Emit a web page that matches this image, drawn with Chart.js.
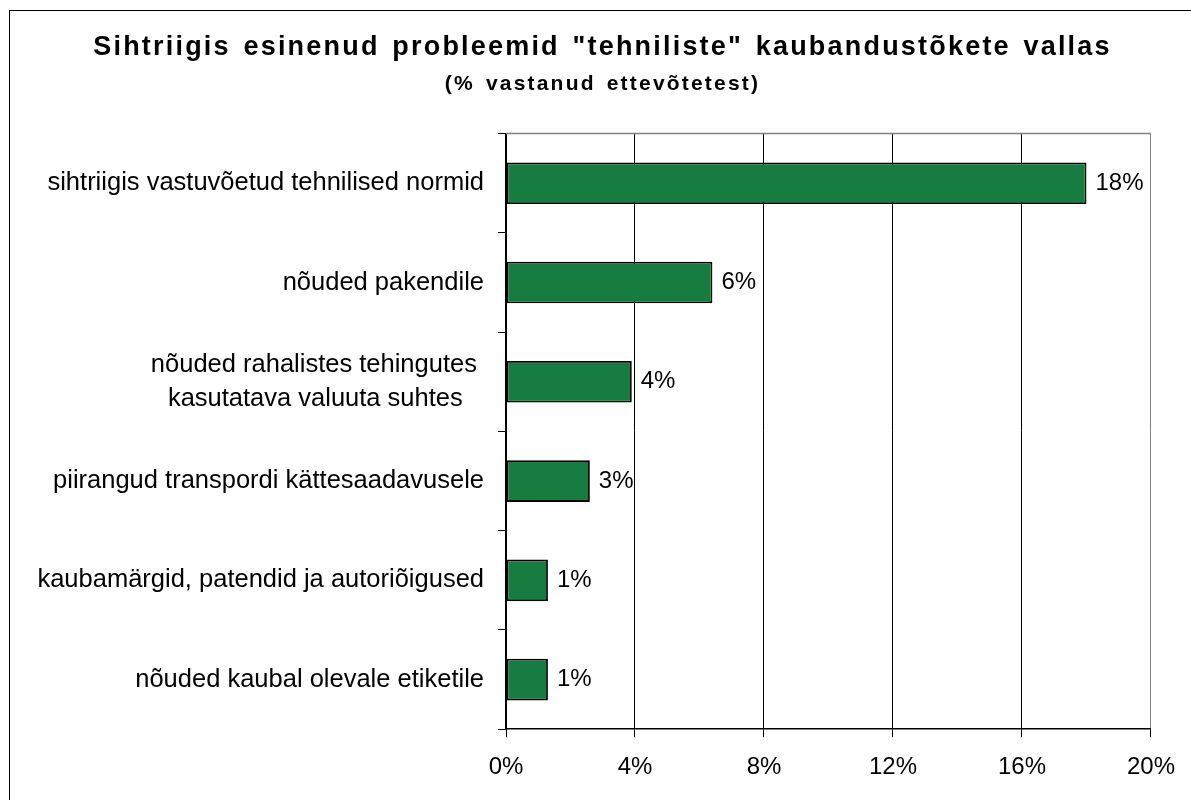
<!DOCTYPE html>
<html lang="et">
<head>
    <meta charset="UTF-8">
    <title>Sihtriigis esinenud probleemid "tehniliste" kaubandustõkete vallas</title>
    <script src="https://cdn.jsdelivr.net/npm/chart.js@4.4.4/dist/chart.umd.min.js"></script>
    <style>
        html, body { margin: 0; padding: 0; background: #fff; overflow: hidden; }
        #wrap { position: relative; width: 1191px; height: 800px; }
        #raam { position: absolute; left: 9px; top: 10px; width: 1300px; height: 900px; border: 1.5px solid #000; }
        canvas { position: absolute; left: 0; top: 0; }
    </style>
</head>
<body>
<div id="wrap">
    <div id="raam"></div>
    <canvas id="joonis" width="1191" height="800"></canvas>
</div>
<script>
// Andmed
const kategooriad = [
    'sihtriigis vastuvõetud tehnilised normid',
    'nõuded pakendile',
    ['nõuded rahalistes tehingutes ', 'kasutatava valuuta suhtes   '],
    'piirangud transpordi kättesaadavusele',
    'kaubamärgid, patendid ja autoriõigused',
    'nõuded kaubal olevale etiketile'
];
const osakaal = [18.0, 6.4, 3.9, 2.6, 1.3, 1.3];
const xMin = 0, xMax = 20, xSamm = 4;

Chart.defaults.font.family = "'Liberation Sans', Arial, sans-serif";
Chart.defaults.color = '#000';

// Väärtuste sildid tulpade lõppu
const siltidePlugin = {
    id: 'sildid',
    afterDatasetsDraw(chart) {
        const ctx = chart.ctx;
        const meta = chart.getDatasetMeta(0);
        ctx.save();
        ctx.font = "24px 'Liberation Sans', Arial, sans-serif";
        ctx.fillStyle = '#000';
        ctx.textAlign = 'left';
        ctx.textBaseline = 'middle';
        meta.data.forEach((bar, i) => {
            ctx.fillText(Math.round(osakaal[i]) + '%', bar.x + 9, bar.y);
        });
        ctx.restore();
    }
};

// Pealkirjal hõredam kiri (Excelis nii), joonisala ülemine hall piir
const raamPlugin = {
    id: 'raam',
    beforeDraw(chart) {
        chart.ctx.letterSpacing = '2.2px';
        chart.ctx.wordSpacing = '3px';
    },
    beforeDatasetsDraw(chart) {
        const a = chart.chartArea;
        const ctx = chart.ctx;
        ctx.letterSpacing = '0px';
        ctx.wordSpacing = '0px';
        ctx.save();
        ctx.strokeStyle = '#808080';
        ctx.lineWidth = 1.5;
        ctx.beginPath();
        ctx.moveTo(a.left, a.top);
        ctx.lineTo(a.right, a.top);
        ctx.stroke();
        ctx.restore();
    }
};

new Chart(document.getElementById('joonis'), {
    type: 'bar',
    data: {
        labels: kategooriad,
        datasets: [{
            data: osakaal,
            backgroundColor: '#167c3f',
            borderColor: '#000',
            borderWidth: 1.8,
            borderSkipped: false,
            barPercentage: 0.42,
            categoryPercentage: 1
        }]
    },
    options: {
        indexAxis: 'y',
        responsive: false,
        animation: false,
        layout: { padding: { left: 14, right: 0, top: 10, bottom: 2 } },
        plugins: {
            legend: { display: false },
            tooltip: { enabled: false },
            title: {
                display: true,
                text: 'Sihtriigis esinenud probleemid "tehniliste" kaubandustõkete vallas',
                font: { size: 27, weight: 'bold' },
                color: '#000',
                padding: { top: 21, bottom: 0 }
            },
            subtitle: {
                display: true,
                text: '(% vastanud ettevõtetest)',
                font: { size: 21, weight: 'bold' },
                color: '#000',
                padding: { top: 8, bottom: 37 }
            }
        },
        scales: {
            x: {
                min: xMin,
                max: xMax,
                ticks: {
                    z: 1,
                    stepSize: xSamm,
                    padding: 16,
                    font: { size: 24 },
                    callback: v => v + '%'
                },
                grid: {
                    color: ctx => ctx.tick && ctx.tick.value === xMax ? '#808080' : '#000',
                    lineWidth: 1,
                    tickLength: 8,
                    tickColor: '#000'
                },
                border: { color: '#000', width: 1.5 }
            },
            y: {
                ticks: {
                    z: 1,
                    padding: 14,
                    font: { size: 25.5, lineHeight: 1.34 }
                },
                grid: {
                    drawOnChartArea: false,
                    tickLength: 8,
                    tickColor: '#000'
                },
                border: { color: '#000', width: 1.5 },
                afterFit: s => { s.width = 492; }
            },
            y2: {
                type: 'category',
                position: 'right',
                labels: kategooriad,
                ticks: { display: false },
                grid: { display: false },
                border: { display: false },
                afterFit: s => { s.width = 35; }
            }
        }
    },
    plugins: [siltidePlugin, raamPlugin]
});
</script>
</body>
</html>
